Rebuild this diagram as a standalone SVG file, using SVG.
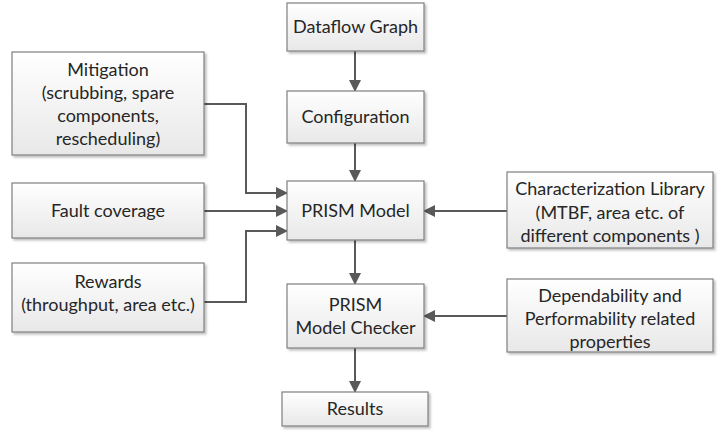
<svg xmlns="http://www.w3.org/2000/svg" width="719" height="436" viewBox="0 0 719 436">
<defs>
<linearGradient id="g" x1="0" y1="0" x2="0" y2="1">
<stop offset="0" stop-color="#ffffff"/>
<stop offset="1" stop-color="#e8e8e8"/>
</linearGradient>
<filter id="sh" x="-5%" y="-5%" width="115%" height="125%">
<feDropShadow dx="2" dy="2" stdDeviation="1" flood-color="#000" flood-opacity="0.25"/>
</filter>
<marker id="ar" markerWidth="12" markerHeight="12" viewBox="0 0 12 12" refX="11" refY="6" orient="auto" markerUnits="userSpaceOnUse">
<path d="M0,0 L12,6 L0,12 Z" fill="#595959"/>
</marker>
</defs>
<style>
.b{fill:url(#g);stroke:#7f7f7f;stroke-width:1.2;filter:url(#sh)}
.t{font-family:Lato,"Open Sans","Liberation Sans",sans-serif;font-size:18px;fill:#262626;text-anchor:middle}
.c{fill:none;stroke:#595959;stroke-width:2;marker-end:url(#ar)}
</style>
<rect width="719" height="436" fill="#fff"/>
<g id="connectors">
<path class="c" d="M355,51 V91"/>
<path class="c" d="M355,143 V181"/>
<path class="c" d="M355,240 V284"/>
<path class="c" d="M355,348 V392"/>
<path class="c" d="M204,104 H246 V193 H287"/>
<path class="c" d="M204,211 H287"/>
<path class="c" d="M204,302 H246 V231 H287"/>
<path class="c" d="M507,211 H424"/>
<path class="c" d="M507,316 H424"/>
</g>
<g id="dataflow"><rect class="b" x="287" y="3" width="137" height="48"/><text class="t" x="355.5" y="33">Dataflow Graph</text></g>
<g id="configuration"><rect class="b" x="287" y="91" width="137" height="52"/><text class="t" x="355.5" y="123">Configuration</text></g>
<g id="prism-model"><rect class="b" x="287" y="181" width="137" height="59"/><text class="t" x="355.5" y="217">PRISM Model</text></g>
<g id="checker"><rect class="b" x="287" y="284" width="137" height="64"/><text class="t" x="355.5" y="311">PRISM</text><text class="t" x="355.5" y="334">Model Checker</text></g>
<g id="results"><rect class="b" x="282" y="392" width="146" height="34"/><text class="t" x="355" y="415">Results</text></g>
<g id="mitigation"><rect class="b" x="12" y="52" width="192" height="103"/><text class="t" x="108" y="76">Mitigation</text><text class="t" x="108" y="99">(scrubbing, spare</text><text class="t" x="108" y="122">components,</text><text class="t" x="108" y="145">rescheduling)</text></g>
<g id="fault"><rect class="b" x="12" y="183" width="192" height="55"/><text class="t" x="108" y="217">Fault coverage</text></g>
<g id="rewards"><rect class="b" x="12" y="263" width="192" height="69"/><text class="t" x="108" y="288">Rewards</text><text class="t" x="108" y="311">(throughput, area etc.)</text></g>
<g id="charlib"><rect class="b" x="507" y="172" width="206" height="76"/><text class="t" x="610" y="195">Characterization Library</text><text class="t" x="610" y="219">(MTBF, area  etc. of</text><text class="t" x="610" y="242">different components )</text></g>
<g id="depend"><rect class="b" x="507" y="279" width="206" height="73"/><text class="t" x="610" y="302">Dependability and</text><text class="t" x="610" y="325">Performability related</text><text class="t" x="610" y="348">properties</text></g>
</svg>
